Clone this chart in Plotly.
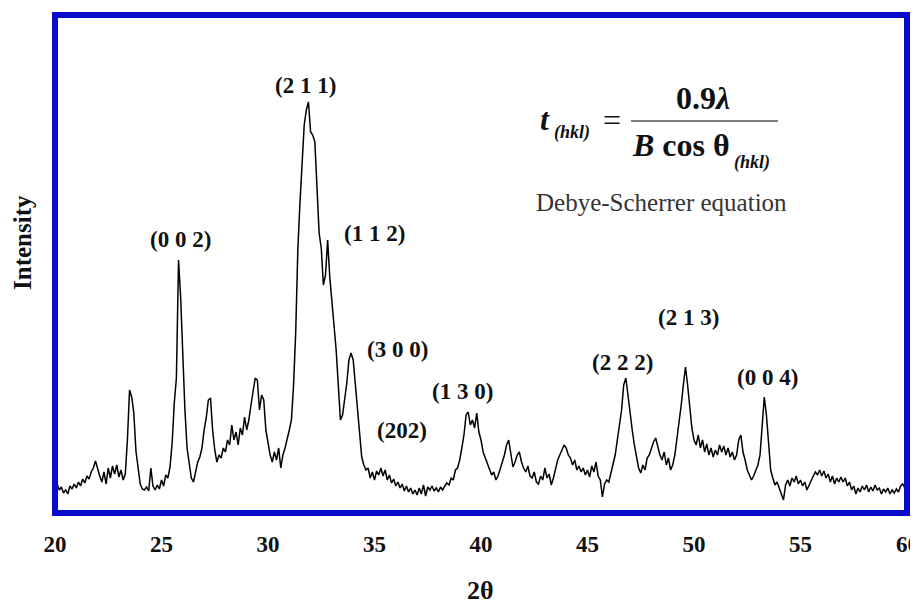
import plotly.graph_objects as go

# ---------------- data ----------------
two_theta_start = 20.0
two_theta_step = 0.1
intensity = [
    # 20.0 - 20.9
    35, 28, 23, 26, 20, 23, 19, 27, 24, 29,
    # 21
    25, 31, 27, 34, 30, 37, 34, 41, 45, 52,
    # 22
    43, 37, 31, 41, 29, 45, 35, 47, 39, 48,
    # 23
    36, 43, 33, 39, 73, 123, 116, 100, 62, 45,
    # 24
    29, 24, 23, 26, 22, 45, 27, 23, 28, 24,
    # 25
    33, 27, 38, 35, 46, 70, 110, 135, 253, 215,
    # 26
    153, 103, 65, 48, 35, 31, 43, 51, 56, 65,
    # 27
    83, 95, 113, 115, 83, 63, 51, 58, 55, 65,
    # 28
    61, 73, 68, 88, 73, 81, 68, 85, 78, 96,
    # 29
    83, 93, 108, 121, 135, 133, 103, 118, 113, 83,
    # 30
    68, 58, 51, 61, 53, 65, 45, 58, 65, 73,
    # 31
    83, 93, 128, 180, 263, 310, 350, 388, 403, 411,
    # 32
    381, 378, 371, 318, 280, 265, 228, 238, 273, 236,
    # 33
    213, 188, 163, 128, 93, 98, 113, 130, 153, 160,
    # 34
    153, 128, 101, 73, 56, 48, 43, 45, 35, 41,
    # 35
    33, 42, 38, 45, 37, 43, 33, 38, 30, 34,
    # 36
    27, 31, 25, 29, 22, 27, 21, 25, 19, 23,
    # 37
    18, 25, 19, 28, 17, 26, 23, 27, 22, 25,
    # 38
    21, 26, 23, 27, 30, 28, 35, 33, 43, 45,
    # 39
    53, 65, 78, 98, 101, 88, 93, 85, 100, 81,
    # 40
    73, 61, 55, 48, 43, 38, 41, 33, 37, 43,
    # 41
    51, 58, 68, 73, 58, 46, 51, 58, 61, 51,
    # 42
    45, 41, 47, 37, 35, 41, 31, 29, 37, 33,
    # 43
    45, 35, 39, 28, 35, 43, 53, 58, 63, 68,
    # 44
    65, 58, 55, 48, 53, 43, 47, 41, 45, 38,
    # 45
    43, 36, 47, 41, 51, 37, 33, 16, 29, 33,
    # 46
    31, 41, 48, 58, 73, 88, 103, 128, 135, 118,
    # 47
    98, 83, 68, 55, 45, 40, 48, 43, 55, 58,
    # 48
    65, 71, 75, 65, 58, 53, 61, 48, 55, 43,
    # 49
    48, 58, 73, 88, 108, 128, 146, 128, 103, 85,
    # 50
    73, 68, 78, 65, 73, 61, 69, 58, 65, 56,
    # 51
    63, 58, 68, 61, 67, 58, 65, 56, 61, 53,
    # 52
    58, 73, 78, 61, 53, 43, 38, 33, 37, 43,
    # 53
    48, 58, 83, 116, 98, 73, 43, 35, 28, 31,
    # 54
    25, 18, 13, 28, 33, 27, 35, 31, 37, 29,
    # 55
    33, 27, 31, 23, 28, 33, 37, 41, 38, 43,
    # 56
    37, 42, 35, 39, 31, 37, 29, 35, 31, 36,
    # 57
    31, 35, 27, 31, 23, 27, 19, 25, 21, 27,
    # 58
    23, 28, 21, 26, 22, 28, 23, 25, 19, 24,
    # 59 - 60.0
    21, 25, 19, 23, 20, 24, 21, 27, 29, 25, 28,
]
two_theta = [round(two_theta_start + i * two_theta_step, 2) for i in range(len(intensity))]

x_ticks = [20, 25, 30, 35, 40, 45, 50, 55, 60]
x_tick_labels = ["20", "25", "30", "35", "40", "45", "50", "55", "60"]

peak_labels = ["(2 1 1)", "(0 0 2)", "(1 1 2)", "(3 0 0)", "(202)",
               "(1 3 0)", "(2 2 2)", "(2 1 3)", "(0 0 4)"]
peak_label_x = [31.78, 25.87, 34.98, 36.06, 36.29, 39.15, 46.62, 49.72, 53.47]
peak_label_y = [428, 274, 280, 164, 83, 122, 151, 196, 136]

x_title = "2θ"
y_title = "Intensity"
equation_caption = "Debye-Scherrer equation"

# ---------------- layout helpers ----------------
# the page body adds an 8 px offset; positions below are given in window pixels
OFF = 8
W, H = 918 - OFF, 605 - OFF
L, R, T, B = 55, 907, 15, 513
Y_MAX = 498
TICK_Y = 544  # window pixel row of the tick-label centres


def px_x(px):
    return (px - L) / (R - L)


def px_y(py):
    return (B - py) / (B - T)


SERIF = "Liberation Serif"
TICK_FONT = dict(family=SERIF, size=23, color="#111", weight="bold")

fig = go.Figure()
fig.add_trace(go.Scatter(
    x=two_theta, y=intensity, mode="lines",
    line=dict(color="black", width=1.5),
    showlegend=False, hoverinfo="skip",
))

annotations = []
for lab, xv, yv in zip(peak_labels, peak_label_x, peak_label_y):
    annotations.append(dict(
        x=xv, y=yv, xref="x", yref="y", text=lab, showarrow=False,
        xanchor="center", yanchor="middle",
        font=dict(family=SERIF, size=23, color="#111", weight="bold"),
    ))

# the last tick label sits at the very right edge of the page; draw it as text
annotations.append(dict(
    x=x_ticks[-1], y=0, xref="x", yref="paper", text=x_tick_labels[-1],
    showarrow=False, xanchor="center", yanchor="middle", yshift=-(TICK_Y - B),
    font=TICK_FONT,
))


def add_text(txt, px, py, size, weight="normal", style="normal", color="#111", angle=0):
    annotations.append(dict(
        x=px_x(px), y=px_y(py), xref="paper", yref="paper", text=txt,
        showarrow=False, xanchor="center", yanchor="middle", textangle=angle,
        font=dict(family=SERIF, size=size, color=color, weight=weight, style=style),
    ))


# equation
add_text("t", 545, 119, 32, "bold", "italic")
add_text("(hkl)", 572, 133, 18, "bold", "italic")
add_text("=", 612, 120, 32)
add_text("0.9<i>λ</i>", 703, 98, 32, "bold")
add_text("<i>B</i> cos θ", 681, 145, 32, "bold")
add_text("(hkl)", 752, 162, 18, "bold", "italic")
add_text(equation_caption, 661, 202, 25, color="#333")

# axis titles
add_text(x_title, 480, 590, 26, "bold")
add_text(y_title, 22, 243, 25, "bold", angle=-90)

fig.update_layout(
    width=W, height=H,
    margin=dict(l=L - OFF, r=W - (R - OFF), t=T - OFF, b=H - (B - OFF), pad=0),
    paper_bgcolor="white", plot_bgcolor="white",
    xaxis=dict(
        range=[20, 60], tickvals=x_ticks[:-1], ticktext=x_tick_labels[:-1],
        showgrid=False, zeroline=False, showline=False, ticks="",
        ticklabelstandoff=15,
        tickfont=TICK_FONT,
    ),
    yaxis=dict(
        range=[0, Y_MAX], showgrid=False, zeroline=False, showline=False,
        showticklabels=False, ticks="",
    ),
    annotations=annotations,
    shapes=[
        dict(type="rect", xref="paper", yref="paper", x0=0, x1=1, y0=0, y1=1,
             line=dict(color="#0a0acc", width=6), layer="above"),
        dict(type="line", xref="paper", yref="paper",
             x0=px_x(631), x1=px_x(778), y0=px_y(121), y1=px_y(121),
             line=dict(color="#555", width=1.5)),
    ],
)

fig.write_html("out.html")
